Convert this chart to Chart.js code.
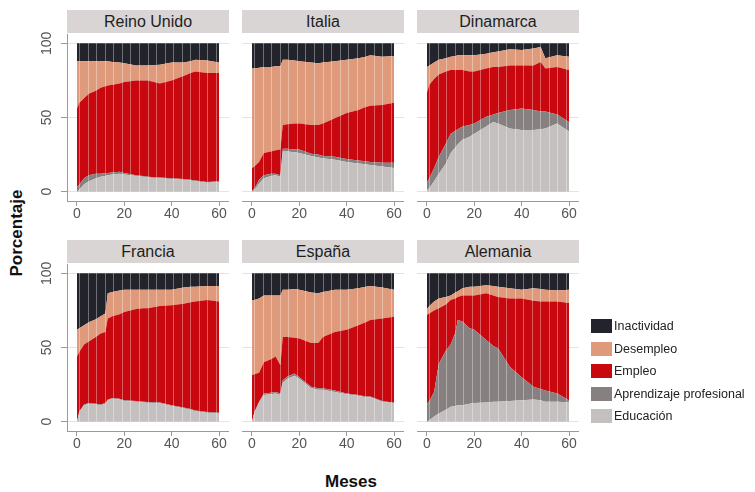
<!DOCTYPE html>
<html lang="es">
<head>
<meta charset="utf-8">
<title>Situación de los jóvenes por meses</title>
<script src="https://cdn.jsdelivr.net/npm/chart.js@4.4.1/dist/chart.umd.min.js"></script>
<style>
  body { margin: 0; background: #fff; font-family: 'Liberation Sans', Arial, sans-serif; }
  #lienzo { position: relative; width: 755px; height: 492px; overflow: hidden; background: #fff; }
  .tira { position: absolute; height: 23px; background: #d8d5d4; color: #1e1e1e; font-size: 16px; line-height: 23px; text-align: center; }
  canvas { position: absolute; }
  .titulo-eje { position: absolute; font-weight: bold; color: #111; white-space: nowrap; }
  #eje-y { left: 17px; top: 233px; font-size: 17px; transform: translate(-50%, -50%) rotate(-90deg); }
  #eje-x { left: 351px; top: 482px; font-size: 17px; transform: translate(-50%, -50%); }
  .leyenda-fila { position: absolute; left: 591px; height: 16px; font-size: 12.5px; color: #222; white-space: nowrap; }
  .leyenda-caja { position: absolute; left: 0; top: 1px; width: 21px; height: 14px; }
  .leyenda-texto { position: absolute; left: 23px; top: 0; line-height: 16px; }
</style>
</head>
<body>
<div id="lienzo">
  <div class="titulo-eje" id="eje-y">Porcentaje</div>
  <div class="titulo-eje" id="eje-x">Meses</div>
</div>
<script>
// --- Datos (porcentaje de cada situación por mes) ---
const meses = [0, 1, 3, 5, 8, 10, 12, 13, 15, 18, 20, 25, 28, 30, 35, 40, 45, 48, 50, 55, 60];
const ticksX = [0, 20, 40, 60];
const ticksY = [0, 50, 100];
const categorias = ['Educación', 'Aprendizaje profesional', 'Empleo', 'Desempleo', 'Inactividad'];
const paises = ['Reino Unido', 'Italia', 'Dinamarca', 'Francia', 'España', 'Alemania'];

// Reino Unido
const ruEducacion    = [0, 1.5, 5, 7, 9, 10, 10.5, 11, 11.5, 12, 11.5, 10.5, 10, 9.5, 9, 8.5, 8, 7.5, 7, 6, 6.5];
const ruAprendizaje  = [3, 3.5, 4, 4, 3, 2, 2, 1.5, 1.5, 1.5, 1, 0.5, 0.5, 0.5, 0.5, 0.5, 0.5, 0.5, 0.5, 0.5, 0.5];
const ruEmpleo       = [53, 55, 54, 55, 56, 58, 58.5, 59, 59, 59.5, 61.5, 64, 64.5, 65, 63.5, 66, 69.5, 72, 73.5, 73.5, 73];
const ruDesempleo    = [32, 28, 25, 22, 20, 18, 17, 16.5, 15.5, 14, 12.5, 10, 10, 10, 12.5, 12, 9, 8, 8, 8.5, 7];
const ruInactividad  = [12, 12, 12, 12, 12, 12, 12, 12, 12.5, 13, 13.5, 15, 15, 15, 14.5, 13, 13, 12, 11, 11.5, 13];

// Italia
const itEducacion    = [0, 1, 5.5, 9, 10.5, 11, 10, 27, 27, 26.5, 26, 24, 23, 22.5, 21.5, 20, 19, 18.5, 18, 17, 16];
const itAprendizaje  = [0.5, 1, 2.5, 2, 1.5, 1, 1, 2, 2, 2, 2.5, 1.5, 2, 1.5, 2, 2, 2, 2, 2, 2.5, 3.5];
const itEmpleo       = [15.5, 15, 12, 15, 15, 16, 17.5, 16, 16.5, 17.5, 17.5, 19.5, 20, 22, 26, 31, 34, 36.5, 38, 39, 40.5];
const itDesempleo    = [67, 66, 63.5, 58, 57, 56.5, 56, 44, 43.5, 42.5, 42, 42, 41.5, 41, 38.5, 36, 35, 34, 34, 32.5, 31.5];
const itInactividad  = [17, 17, 16.5, 16, 16, 15.5, 15.5, 11, 11, 11.5, 12, 13, 13.5, 13, 12, 11, 10, 9, 8, 9, 8.5];

// Dinamarca
const dkEducacion    = [1, 2.5, 7, 12, 19, 26, 30, 32, 35, 37, 39, 44, 47, 46, 42.5, 41.5, 41.5, 42, 42.5, 46, 40.5];
const dkAprendizaje  = [5, 6.5, 9, 11.5, 13.5, 13, 11, 10, 9, 8, 7, 6.5, 5, 7, 12.5, 14.5, 13.5, 12, 11.5, 6, 6.5];
const dkEmpleo       = [61, 63, 60, 55.5, 48.5, 43, 41, 40, 38, 36, 35, 32.5, 32, 31, 30, 29, 30, 33.5, 29, 32, 35];
const dkDesempleo    = [17, 13, 11, 10, 9, 9, 9.5, 10, 10, 11, 11, 10, 10, 10.5, 11, 10.5, 11.5, 10, 7, 8, 9];
const dkInactividad  = [16, 15, 13, 11, 10, 9, 8.5, 8, 8, 8, 8, 7, 6, 5.5, 4, 4.5, 3.5, 2.5, 10, 8, 9];

// Francia
const frEducacion    = [0, 6.5, 11, 12, 11.5, 11, 12, 14.5, 15.5, 15, 14, 13.5, 13, 12.8, 12.4, 10.5, 9, 8, 7, 6, 5.5];
const frAprendizaje  = [0, 0.5, 0.5, 0.5, 0.5, 0.5, 0.5, 0.5, 0.5, 0.5, 0.5, 0.5, 0.5, 0.5, 0.5, 0.5, 0.5, 0.5, 0.5, 0.5, 0.5];
const frEmpleo       = [44, 40, 40.5, 41.5, 45, 48, 48, 54.5, 55, 57, 59.5, 62, 63, 63.2, 65.1, 67.5, 70, 72, 73.5, 75.5, 75];
const frDesempleo    = [18, 16, 13, 13, 12, 11.5, 12.5, 17, 16.5, 16, 15, 13, 12.5, 12.5, 11, 10.5, 11, 10.5, 10, 9.5, 10.5];
const frInactividad  = [38, 37, 35, 33, 31, 29, 27, 13.5, 12.5, 11.5, 11, 11, 11, 11, 11, 11, 9.5, 9, 9, 8.5, 8.5];

// España
const esEducacion    = [0, 6, 13, 18, 18.5, 19, 18, 26, 29, 31, 29, 22.5, 21.5, 21.5, 20, 18.5, 17.5, 16.5, 16.5, 13.5, 12.5];
const esAprendizaje  = [0, 0.5, 0.5, 1, 1, 1, 1, 2, 1.5, 1.5, 1, 1, 1, 1, 1, 0.5, 0.5, 0.5, 0.5, 0.5, 0.3];
const esEmpleo       = [31.5, 25.5, 19.5, 21, 22.5, 24, 19, 29, 26.5, 24, 26, 29.5, 30.5, 34.5, 39.5, 43, 47, 50, 51.5, 55.5, 58];
const esDesempleo    = [50.5, 50, 50, 45, 43, 41, 47, 32, 32, 33, 33, 34, 33.5, 30.5, 28.5, 27, 25, 24, 23, 21, 18.2];
const esInactividad  = [18, 18, 17, 15, 15, 15, 15, 11, 11, 10.5, 11, 13, 13.5, 12.5, 11, 11, 10, 9, 8.5, 9.5, 11];

// Alemania
const deEducacion    = [0, 1, 3.5, 5.5, 8, 10, 10.5, 11, 11, 12, 12.5, 13, 13.5, 13.5, 14, 14.5, 15, 14.5, 13.5, 13.5, 13];
const deAprendizaje  = [12, 13, 16.5, 33.5, 40, 42, 49.5, 57.5, 56.5, 51, 49.5, 42, 37.5, 36, 23, 15.5, 8.5, 7.5, 7.5, 5.5, 1.5];
const deEmpleo       = [60, 59, 55, 37.5, 31, 30, 23, 15.5, 17.5, 22, 23, 31.5, 34, 34.5, 46, 53, 58, 59, 60, 62, 65.5];
const deDesempleo    = [4, 5, 6, 6.5, 5, 3, 4, 4, 5, 6, 6, 5.5, 6.5, 7, 7, 6, 8.5, 8.5, 8, 7.5, 9];
const deInactividad  = [24, 22, 19, 17, 16, 15, 13, 12, 10, 9, 9, 8, 8.5, 9, 10, 11, 10, 10.5, 11, 11.5, 11];

// --- Estilo y disposición ---
const colores = ['#c4c0bf', '#868080', '#c8070e', '#df9a7c', '#23242b'];
const columnas = [67, 242, 417];
const filas = [34, 264];
const anchoPanel = 162;
const anchoEjeY = 40;
const margenArriba = 14;

const seriesPorPais = {
    'Reino Unido': [ruEducacion, ruAprendizaje, ruEmpleo, ruDesempleo, ruInactividad],
    'Italia':      [itEducacion, itAprendizaje, itEmpleo, itDesempleo, itInactividad],
    'Dinamarca':   [dkEducacion, dkAprendizaje, dkEmpleo, dkDesempleo, dkInactividad],
    'Francia':     [frEducacion, frAprendizaje, frEmpleo, frDesempleo, frInactividad],
    'España':      [esEducacion, esAprendizaje, esEmpleo, esDesempleo, esInactividad],
    'Alemania':    [deEducacion, deAprendizaje, deEmpleo, deDesempleo, deInactividad]
};

Chart.defaults.font.family = "'Liberation Sans', Arial, sans-serif";

const lienzo = document.getElementById('lienzo');

function crearPanel(pais, col, fila) {
    const izq = columnas[col];
    const arriba = filas[fila];
    const conEjeY = col === 0;

    // tira del título
    const tira = document.createElement('div');
    tira.className = 'tira';
    tira.textContent = pais;
    tira.style.left = izq + 'px';
    tira.style.top = (arriba - 24) + 'px';
    tira.style.width = anchoPanel + 'px';
    lienzo.appendChild(tira);

    const canvas = document.createElement('canvas');
    canvas.width = anchoEjeY + anchoPanel;
    canvas.height = 195 + margenArriba;
    canvas.style.left = (izq - anchoEjeY) + 'px';
    canvas.style.top = (arriba - margenArriba) + 'px';
    lienzo.appendChild(canvas);

    const datasets = seriesPorPais[pais].map((valores, i) => ({
        label: categorias[i],
        data: meses.map((m, j) => ({ x: m, y: valores[j] })),
        backgroundColor: colores[i],
        borderWidth: 0,
        pointRadius: 0,
        fill: i === 0 ? 'origin' : '-1',
        xAxisID: 'x',
        yAxisID: 'y'
    }));

    new Chart(canvas, {
        type: 'line',
        data: { datasets: datasets },
        options: {
            responsive: false,
            animation: false,
            devicePixelRatio: 1,
            layout: { padding: { top: margenArriba, left: 0, right: 0, bottom: 0 } },
            plugins: { legend: { display: false }, tooltip: { enabled: false } },
            elements: { line: { tension: 0 } },
            scales: {
                x: {
                    type: 'linear', min: -4.22, max: 64.22,
                    afterBuildTicks: s => { s.ticks = ticksX.map(v => ({ value: v })); },
                    afterFit: s => { s.height = 28; s.paddingLeft = 0; s.paddingRight = 0; },
                    grid: { drawOnChartArea: false, tickLength: 5, tickColor: '#9a9a9a' },
                    border: { color: '#9a9a9a' },
                    ticks: { color: '#555', font: { size: 14 }, padding: 0, maxRotation: 0, autoSkip: false }
                },
                // líneas blancas finas que se ven sobre las áreas
                xw: {
                    type: 'linear', position: 'top', min: -4.22, max: 64.22,
                    afterBuildTicks: s => {
                        const t = [];
                        for (let v = 1.2; v < 60; v += 3.6) t.push({ value: v });
                        s.ticks = t;
                    },
                    grid: { color: 'rgba(255,255,255,0.35)', z: 1, drawTicks: false },
                    border: { display: false },
                    ticks: { display: false }
                },
                y: {
                    stacked: true, min: -6.3, max: 106.3,
                    afterBuildTicks: s => { s.ticks = ticksY.map(v => ({ value: v })); },
                    afterFit: s => { s.width = anchoEjeY; s.paddingTop = 0; s.paddingBottom = 0; },
                    grid: { color: '#e4e4e4', drawTicks: conEjeY, tickLength: 6, tickColor: '#9a9a9a' },
                    border: { display: conEjeY, color: '#9a9a9a' },
                    ticks: { display: conEjeY, color: '#555', font: { size: 14 }, minRotation: 90, maxRotation: 90, crossAlign: 'center', padding: 2 }
                }
            }
        }
    });
}

paises.forEach((pais, i) => crearPanel(pais, i % 3, Math.floor(i / 3)));

// leyenda (de arriba a abajo: Inactividad ... Educación)
for (let k = 0; k < categorias.length; k++) {
    const i = categorias.length - 1 - k;
    const fila = document.createElement('div');
    fila.className = 'leyenda-fila';
    fila.style.top = (318 + k * 22.6) + 'px';
    fila.innerHTML = `<span class="leyenda-caja" style="background:${colores[i]}"></span><span class="leyenda-texto">${categorias[i]}</span>`;
    lienzo.appendChild(fila);
}
</script>
</body>
</html>
